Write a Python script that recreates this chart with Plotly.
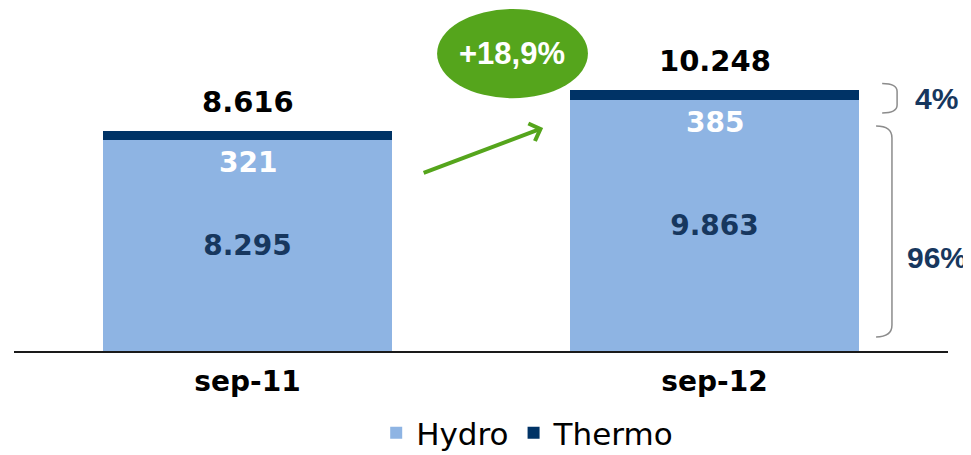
import plotly.graph_objects as go

categories = ["sep-11", "sep-12"]
hydro = [8295, 9863]
thermo = [321, 385]
totals = [h + t for h, t in zip(hydro, thermo)]

HYDRO = "#8EB4E3"
THERMO = "#003366"
NAVY = "#17375E"
GREEN = "#55A51C"
WIDE = "'DejaVu Sans', Verdana, sans-serif"
ARIAL = "Arial, 'Liberation Sans', sans-serif"


def fmt(v):
    return f"{v:,}".replace(",", ".")


x_pos = list(range(len(categories)))
growth = totals[1] / totals[0] - 1
growth_label = f"+{growth * 100:.1f}%".replace(".", ",")
thermo_share = f"{round(thermo[1] / totals[1] * 100)}%"
hydro_share = f"{round(hydro[1] / totals[1] * 100)}%"

fig = go.Figure()

fig.add_trace(
    go.Bar(
        x=x_pos,
        y=hydro,
        name="Hydro",
        width=0.62,
        marker=dict(color=HYDRO, line_width=0),
        text=[fmt(v) for v in hydro],
        textposition="inside",
        insidetextanchor="middle",
        textfont=dict(family=WIDE, color=NAVY, size=28, weight="bold"),
    )
)
fig.add_trace(
    go.Bar(
        x=x_pos,
        y=thermo,
        name="Thermo",
        width=0.62,
        marker=dict(color=THERMO, line_width=0),
    )
)

# value labels
for x, h, t, tot in zip(x_pos, hydro, thermo, totals):
    fig.add_annotation(
        x=x, y=h, text=fmt(t), showarrow=False, yanchor="middle", yshift=-23,
        font=dict(family=WIDE, color="white", size=28, weight="bold"),
    )
    fig.add_annotation(
        x=x, y=tot, text=fmt(tot), showarrow=False, yanchor="middle", yshift=29,
        font=dict(family=WIDE, color="black", size=29, weight="bold"),
    )

# growth bubble + arrow
fig.add_shape(
    type="circle", xref="x", yref="y",
    x0=0.406, x1=0.729, y0=9922, y1=13424,
    fillcolor=GREEN, line_width=0,
)
fig.add_annotation(
    x=0.567, y=11673, text=growth_label, showarrow=False,
    font=dict(family=ARIAL, color="white", size=31, weight="bold"),
)
fig.add_annotation(
    x=0.633, y=8755, ax=0.374, ay=6965, axref="x", ayref="y",
    text="", showarrow=True, arrowhead=4, arrowsize=0.9,
    arrowwidth=4, arrowcolor=GREEN,
)


# share braces on the right
def brace(x0, x1, y_top, y_bot, ry):
    return (
        f"M {x0},{y_top} Q {x1},{y_top} {x1},{y_top - ry} "
        f"L {x1},{y_bot + ry} Q {x1},{y_bot} {x0},{y_bot}"
    )


fig.add_shape(
    type="path", xref="x", yref="y",
    path=brace(1.359, 1.391, 10500, 9340, 311),
    line=dict(color="#8C8C8C", width=1.5),
)
fig.add_shape(
    type="path", xref="x", yref="y",
    path=brace(1.346, 1.380, 8830, 550, 467),
    line=dict(color="#8C8C8C", width=1.5),
)
fig.add_annotation(
    x=1.476, y=9922, text=thermo_share, showarrow=False,
    font=dict(family=ARIAL, color=NAVY, size=30, weight="bold"),
)
fig.add_annotation(
    x=1.476, y=3658, text=hydro_share, showarrow=False,
    font=dict(family=ARIAL, color=NAVY, size=30, weight="bold"),
)

fig.update_layout(
    width=963,
    height=452,
    barmode="stack",
    plot_bgcolor="white",
    paper_bgcolor="white",
    font=dict(family=WIDE, color="black"),
    margin=dict(l=6, r=23, t=0, b=103),
    showlegend=True,
    legend=dict(
        orientation="h", traceorder="normal",
        x=0.55, xanchor="center", y=-0.24, yanchor="middle",
        font=dict(family=WIDE, size=31, color="black"),
    ),
    xaxis=dict(
        range=[-0.5, 1.5],
        tickvals=x_pos,
        ticktext=categories,
        tickfont=dict(family=WIDE, size=28, weight="bold", color="black"),
        ticklabelstandoff=4,
        showline=True,
        linecolor="#1A1A1A",
        linewidth=2,
        ticks="",
        showgrid=False,
        zeroline=False,
        fixedrange=True,
    ),
    yaxis=dict(visible=False, range=[0, 13463], fixedrange=True),
)

fig.write_html("out.html")
